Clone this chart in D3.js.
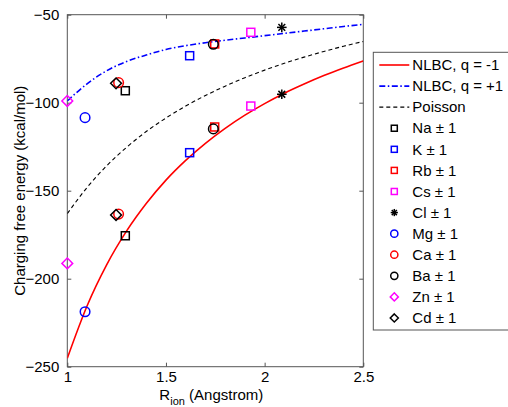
<!DOCTYPE html>
<html>
<head>
<meta charset="utf-8">
<script src="https://cdn.jsdelivr.net/npm/d3@7"></script>
<style>
  body { margin: 0; background: #fff; }
  text { font-family: "Liberation Sans", Arial, Helvetica, sans-serif; font-size: 15px; fill: #000; }
</style>
</head>
<body>
<div id="chart"></div>
<script>
// Data
var ions = ["Na", "K", "Rb", "Cs", "Cl", "Mg", "Ca", "Ba", "Zn", "Cd"];
var ionRadius = [1.294, 1.62, 1.747, 1.93, 2.087, 1.09, 1.26, 1.74, 1.0, 1.247];
var energyPlus = [-93.2, -73.3, -66.6, -60.0, -57.2, -108.5, -88.6, -66.8, -99.0, -89.0];
var energyMinus = [-175.6, -128.4, -113.8, -101.9, -95.2, -218.8, -163.3, -114.9, -191.3, -163.8];

var curveR = [1.0, 1.1, 1.2, 1.3, 1.4, 1.5, 1.6, 1.7, 1.8, 1.9, 2.0, 2.1, 2.2, 2.3, 2.4, 2.5];
var nlbcMinus = [-245.2, -215.5, -192.0, -173.0, -157.3, -144.0, -132.8, -123.1, -114.6, -107.1, -100.5, -94.6, -89.4, -84.6, -80.3, -76.3];
var nlbcPlus = [-99.0, -89.3, -81.8, -76.6, -72.9, -69.8, -67.6, -65.9, -64.5, -63.2, -61.9, -60.6, -59.3, -58.0, -56.7, -55.5];
var poisson = [-163.0, -148.2, -135.8, -125.4, -116.4, -108.7, -101.9, -95.9, -90.6, -85.8, -81.5, -77.6, -74.1, -70.9, -67.9, -65.2];

var xTicks = [1, 1.5, 2, 2.5];
var yTicks = [-250, -200, -150, -100, -50];

// marker styles per ion
var markerShape = ["square", "square", "square", "square", "star", "circle", "circle", "circle", "diamond", "diamond"];
var markerColor = ["#000", "#0000ff", "#ff0000", "#ff00ff", "#000", "#0000ff", "#ff0000", "#000", "#ff00ff", "#000"];

var svgWidth = 508;
var svgHeight = 407;
var margin = { top: 14.7, right: 144.7, bottom: 40.3, left: 67.3 };
var width = svgWidth - margin.left - margin.right;
var height = svgHeight - margin.top - margin.bottom;

var svg = d3.select("#chart")
  .append("svg")
  .attr("width", svgWidth)
  .attr("height", svgHeight);

var chartGroup = svg.append("g")
  .attr("transform", `translate(${margin.left}, ${margin.top})`);

var x = d3.scaleLinear().domain([1, 2.5]).range([0, width]);
var y = d3.scaleLinear().domain([-250, -50]).range([height, 0]);

var axisColor = "#555";

// frame
chartGroup.append("rect")
  .attr("width", width).attr("height", height)
  .attr("fill", "none").attr("stroke", axisColor).attr("stroke-width", 1);

// axes (ticks inward)
var bottomAxis = d3.axisBottom(x).tickValues(xTicks).tickSizeInner(-4).tickSizeOuter(0)
  .tickPadding(5).tickFormat(d3.format("~g"));
var leftAxis = d3.axisLeft(y).tickValues(yTicks).tickSizeInner(-4).tickSizeOuter(0)
  .tickPadding(8).tickFormat(d3.format("~g"));

var gx = chartGroup.append("g").attr("transform", `translate(0, ${height})`).call(bottomAxis);
var gy = chartGroup.append("g").call(leftAxis);
[gx, gy].forEach(function(g) {
  g.select(".domain").remove();
  g.selectAll("line").attr("stroke", axisColor);
  g.selectAll("text").attr("font-size", "15px").attr("fill", "#000")
    .style("font-family", "'Liberation Sans', Arial, sans-serif");
});
gx.selectAll("text").attr("dy", "0.71em");

// mirrored ticks on top and right
chartGroup.append("g").call(d3.axisTop(x).tickValues(xTicks).tickSizeInner(-4).tickSizeOuter(0).tickFormat(""))
  .call(function(g) { g.select(".domain").remove(); g.selectAll("line").attr("stroke", axisColor); });
chartGroup.append("g").attr("transform", `translate(${width}, 0)`)
  .call(d3.axisRight(y).tickValues(yTicks).tickSizeInner(-4).tickSizeOuter(0).tickFormat(""))
  .call(function(g) { g.select(".domain").remove(); g.selectAll("line").attr("stroke", axisColor); });

// curves
var clip = svg.append("clipPath").attr("id", "plotclip");
clip.append("rect").attr("width", width).attr("height", height);
var plot = chartGroup.append("g").attr("clip-path", "url(#plotclip)");

var line = d3.line()
  .x(function(d) { return x(d[0]); })
  .y(function(d) { return y(d[1]); })
  .curve(d3.curveMonotoneX);

var curves = [
  { name: "NLBC, q = -1", values: nlbcMinus, color: "#ff0000", width: 1.6, dash: null },
  { name: "NLBC, q = +1", values: nlbcPlus, color: "#0000ff", width: 1.6, dash: "6,2.5,1.5,2.5" },
  { name: "Poisson", values: poisson, color: "#000", width: 1.1, dash: "4,3" }
];

curves.forEach(function(c) {
  plot.append("path")
    .datum(curveR.map(function(r, i) { return [r, c.values[i]]; }))
    .attr("d", line)
    .attr("fill", "none")
    .attr("stroke", c.color)
    .attr("stroke-width", c.width)
    .attr("stroke-dasharray", c.dash);
});

// markers
function drawMarker(g, shape, color, s) {
  if (shape === "square") {
    g.append("rect").attr("x", -s).attr("y", -s).attr("width", 2 * s).attr("height", 2 * s)
      .attr("fill", "none").attr("stroke", color).attr("stroke-width", 1.5);
  } else if (shape === "circle") {
    g.append("circle").attr("r", s * 1.2)
      .attr("fill", "none").attr("stroke", color).attr("stroke-width", 1.5);
  } else if (shape === "diamond") {
    var d = s * 1.35;
    g.append("path").attr("d", `M0,${-d}L${d},0L0,${d}L${-d},0Z`)
      .attr("fill", "none").attr("stroke", color).attr("stroke-width", 1.5);
  } else if (shape === "star") {
    var r = s * 1.2;
    [0, 45, 90, 135].forEach(function(a) {
      var rad = a * Math.PI / 180;
      g.append("line")
        .attr("x1", -r * Math.cos(rad)).attr("y1", -r * Math.sin(rad))
        .attr("x2", r * Math.cos(rad)).attr("y2", r * Math.sin(rad))
        .attr("stroke", color).attr("stroke-width", 1.5);
    });
  }
}

ions.forEach(function(ion, i) {
  [energyPlus[i], energyMinus[i]].forEach(function(v) {
    var g = chartGroup.append("g")
      .attr("transform", `translate(${x(ionRadius[i])}, ${y(v)})`);
    drawMarker(g, markerShape[i], markerColor[i], 4);
  });
});

// axis labels
svg.append("text")
  .attr("transform", `translate(25, ${margin.top + height / 2}) rotate(-90)`)
  .attr("text-anchor", "middle")
  .text("Charging free energy (kcal/mol)");

var xl = svg.append("text")
  .attr("x", margin.left + width / 2 - 4)
  .attr("y", 400)
  .attr("text-anchor", "middle");
xl.append("tspan").text("R");
xl.append("tspan").attr("dy", 5).attr("font-size", "11px").text("ion");
xl.append("tspan").attr("dy", -5).text(" (Angstrom)");

// legend
var legend = svg.append("g").attr("transform", "translate(373.3, 52.3)");
legend.append("rect")
  .attr("width", 140).attr("height", 277.7)
  .attr("fill", "#fff").attr("stroke", axisColor).attr("stroke-width", 1);

var rowH = 21.08;
curves.forEach(function(c, i) {
  var cy = 12.7 + i * rowH;
  legend.append("line")
    .attr("x1", 6).attr("x2", 36).attr("y1", cy).attr("y2", cy)
    .attr("stroke", c.color).attr("stroke-width", c.width)
    .attr("stroke-dasharray", c.dash);
  legend.append("text").attr("x", 39).attr("y", cy).attr("dy", "0.35em").text(c.name);
});
ions.forEach(function(ion, i) {
  var cy = 12.7 + (i + 3) * rowH;
  var g = legend.append("g").attr("transform", `translate(21, ${cy})`);
  drawMarker(g, markerShape[i], markerColor[i], 3);
  legend.append("text").attr("x", 39).attr("y", cy).attr("dy", "0.35em").text(ion + " \u00b1 1");
});
</script>
</body>
</html>
